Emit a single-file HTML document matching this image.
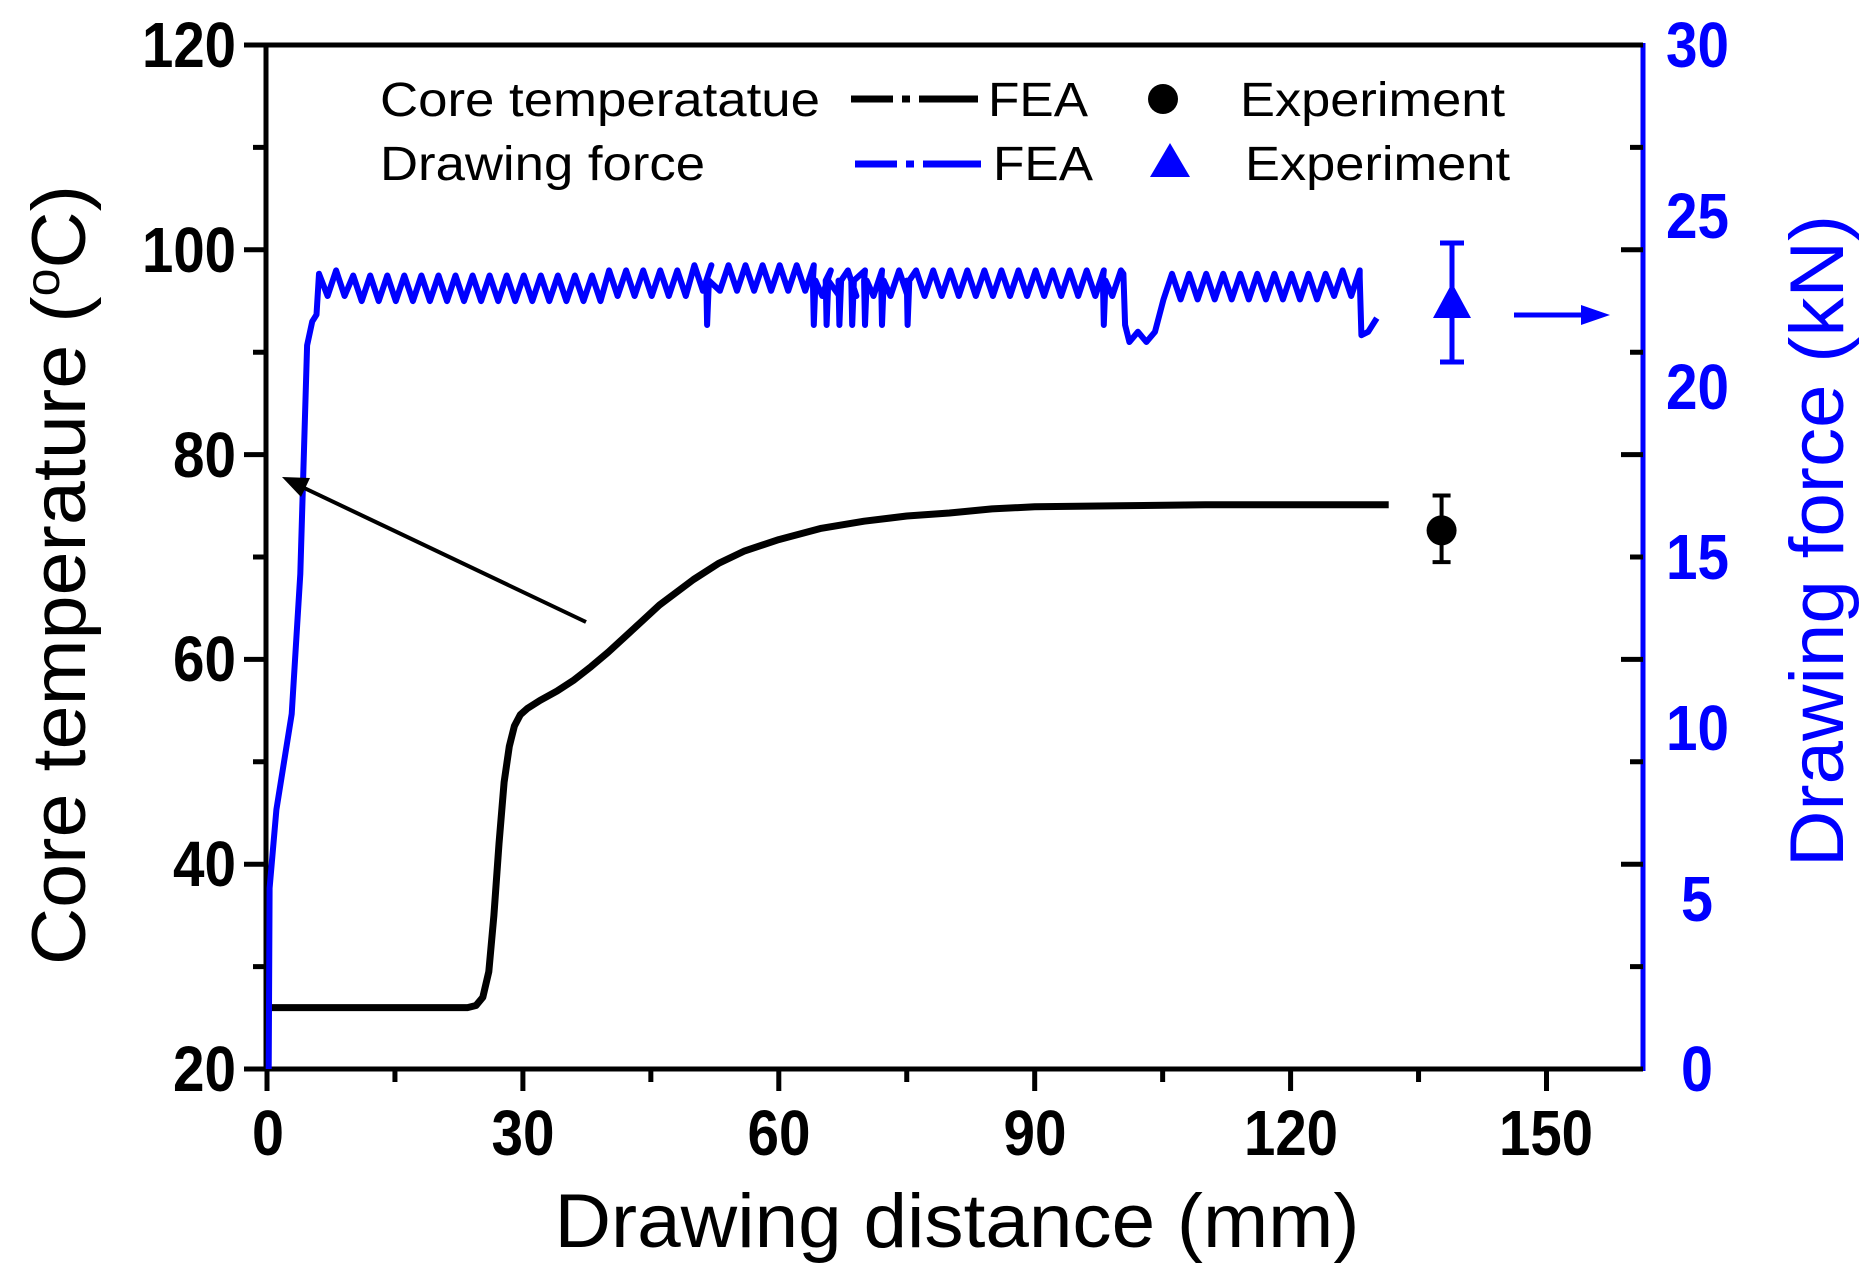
<!DOCTYPE html>
<html><head><meta charset="utf-8"><style>
html,body{margin:0;padding:0;background:#fff;}
svg{display:block;}
text{font-family:"Liberation Sans",Arial,sans-serif;}
</style></head><body>
<svg id="s" width="1866" height="1282" viewBox="0 0 1866 1282" xmlns="http://www.w3.org/2000/svg">
<line x1="266" y1="45" x2="1643" y2="45" stroke="#000" stroke-width="5"/>
<line x1="266" y1="43" x2="266" y2="1071" stroke="#000" stroke-width="5"/>
<line x1="264" y1="1069" x2="1643" y2="1069" stroke="#000" stroke-width="5"/>
<line x1="1643" y1="43" x2="1643" y2="1071" stroke="#0000ff" stroke-width="5"/>
<g id="ticks"></g>
<g font-weight="bold" font-size="64" text-anchor="end" fill="#000">
<text x="236" y="67" textLength="94" lengthAdjust="spacingAndGlyphs">120</text>
<text x="236" y="272" textLength="94" lengthAdjust="spacingAndGlyphs">100</text>
<text x="236" y="477" textLength="63" lengthAdjust="spacingAndGlyphs">80</text>
<text x="236" y="681" textLength="63" lengthAdjust="spacingAndGlyphs">60</text>
<text x="236" y="886" textLength="63" lengthAdjust="spacingAndGlyphs">40</text>
<text x="236" y="1091" textLength="63" lengthAdjust="spacingAndGlyphs">20</text>
</g>
<g font-weight="bold" font-size="64" text-anchor="middle" fill="#000">
<text x="268" y="1155" textLength="32" lengthAdjust="spacingAndGlyphs">0</text>
<text x="523" y="1155" textLength="63" lengthAdjust="spacingAndGlyphs">30</text>
<text x="779" y="1155" textLength="63" lengthAdjust="spacingAndGlyphs">60</text>
<text x="1035" y="1155" textLength="63" lengthAdjust="spacingAndGlyphs">90</text>
<text x="1291" y="1155" textLength="94" lengthAdjust="spacingAndGlyphs">120</text>
<text x="1546" y="1155" textLength="94" lengthAdjust="spacingAndGlyphs">150</text>
</g>
<g font-weight="bold" font-size="64" text-anchor="start" fill="#0000ff">
<text x="1666" y="67" textLength="63" lengthAdjust="spacingAndGlyphs">30</text>
<text x="1666" y="238" textLength="63" lengthAdjust="spacingAndGlyphs">25</text>
<text x="1666" y="409" textLength="63" lengthAdjust="spacingAndGlyphs">20</text>
<text x="1666" y="579" textLength="63" lengthAdjust="spacingAndGlyphs">15</text>
<text x="1666" y="750" textLength="63" lengthAdjust="spacingAndGlyphs">10</text>
<text x="1681" y="921" textLength="32" lengthAdjust="spacingAndGlyphs">5</text>
<text x="1681" y="1091" textLength="32" lengthAdjust="spacingAndGlyphs">0</text>
</g>
<text x="957" y="1247" font-size="76" text-anchor="middle" textLength="805" lengthAdjust="spacingAndGlyphs">Drawing distance (mm)</text>
<text transform="translate(85,575) rotate(-90)" font-size="76" text-anchor="middle" textLength="780" lengthAdjust="spacingAndGlyphs">Core temperature (<tspan dy="-26" font-size="48">o</tspan><tspan dy="26">C)</tspan></text>
<text transform="translate(1843,541) rotate(-90)" font-size="76" text-anchor="middle" fill="#0000ff" textLength="652" lengthAdjust="spacingAndGlyphs">Drawing force (kN)</text>
<g font-size="48">
<text x="380" y="116" textLength="440" lengthAdjust="spacingAndGlyphs">Core temperatatue</text>
<text x="380" y="180" textLength="325" lengthAdjust="spacingAndGlyphs">Drawing force</text>
<text x="988" y="116" textLength="100" lengthAdjust="spacingAndGlyphs">FEA</text>
<text x="993" y="180" textLength="100" lengthAdjust="spacingAndGlyphs">FEA</text>
<text x="1240" y="116" textLength="265" lengthAdjust="spacingAndGlyphs">Experiment</text>
<text x="1245" y="180" textLength="265" lengthAdjust="spacingAndGlyphs">Experiment</text>
</g>
<path d="M851 99 H893 M902 99 H910 M919 99 H978" stroke="#000" stroke-width="7"/>
<path d="M855 164 H897 M906 164 H914 M923 164 H981" stroke="#0000ff" stroke-width="7"/>
<circle cx="1163" cy="99" r="15" fill="#000"/>
<polygon points="1170,143 1150,177 1190,177" fill="#0000ff"/>
<g id="data"></g>
</svg>
<script>
var NS="http://www.w3.org/2000/svg";
function X(mm){return 267+mm*8.53;}
function YT(t){return 1069-(t-20)*10.24;}
function YF(f){return 1069-f*34.13;}
function el(par,tag,a){var e=document.createElementNS(NS,tag);for(var k in a)e.setAttribute(k,a[k]);document.getElementById(par).appendChild(e);return e;}
var tk="";
for(var t=20;t<=120;t+=10){var y=YT(t);var L=(t%20==0)?22:13;
 tk+="M266 "+y+" H"+(266-L)+" ";
 tk+="M1643 "+y+" H"+(1643-L)+" ";}
for(var m=0;m<=160;m+=15){var x=X(m);var L=(m%30==0)?22:13;tk+="M"+x+" 1069 V"+(1069+L)+" ";}
el("ticks","path",{d:tk,stroke:"#000","stroke-width":5,fill:"none"});
var T=[[0,26],[23.5,26],[24.5,26.2],[25.3,27],[26,29.5],[26.6,35],[27.2,42],[27.8,48],[28.4,51.5],[29,53.5],[29.7,54.6],[30.5,55.2],[32,56],[34,56.9],[36,58],[38,59.3],[40,60.7],[43,63],[46,65.3],[50,67.8],[53,69.4],[56,70.6],[60,71.7],[65,72.8],[70,73.5],[75,74],[80,74.3],[85,74.7],[90,74.9],[100,75],[110,75.1],[131.5,75.1]];
var d="";T.forEach(function(p,i){d+=(i?"L":"M")+X(p[0]).toFixed(1)+" "+YT(p[1]).toFixed(1)+" ";});
el("data","path",{d:d,stroke:"#000","stroke-width":7,fill:"none","stroke-linejoin":"round"});
var F=[[0.2,0],[0.3,5.3],[1.1,7.6],[2.9,10.4],[3.9,14.5],[4.7,21.2],[5.3,21.9],[5.8,22.1],[6.1,23.3]];
var spikes={51.5:21.8,64:21.8,65.5:21.8,67:21.8,68.5:21.8,70:21.8,72:21.8,75:21.8,98:21.8};
var x=6.1,hi=true;
while(x<130){
 x+=1.0;hi=!hi;
 var base=23.0;
 if(x>10&&x<40)base=22.85;
 if(x>50&&x<65)base=23.15;
 if(x>105&&x<125)base=22.9;
 var v=hi?base+0.4:base-0.35;
 if(x>100.5&&x<104.5){v=hi?21.6:21.3;}
 if(x>128.3){v=hi?22.0:21.6;}
 F.push([x,v]);
 for(var s in spikes){var sp=+s;if(sp>x-1&&sp<=x){F.push([sp,23.1]);F.push([sp+0.1,spikes[s]]);F.push([sp+0.3,23.1]);}}
 if(Math.abs(x-100.1)<0.6){F.push([100.4,23.3]);F.push([100.6,21.8]);}
 if(Math.abs(x-128)<0.6){F.push([128.1,23.2]);F.push([128.3,21.5]);}
}
d="";F.forEach(function(p,i){d+=(i?"L":"M")+X(p[0]).toFixed(1)+" "+YF(p[1]).toFixed(1)+" ";});
el("data","path",{d:d,stroke:"#0000ff","stroke-width":6,fill:"none","stroke-linejoin":"round"});
var cx=X(137.7);
el("data","path",{d:"M"+cx+" "+YT(69.5)+" V"+YT(76)+" M"+(cx-9)+" "+YT(69.5)+" H"+(cx+9)+" M"+(cx-9)+" "+YT(76)+" H"+(cx+9),stroke:"#000","stroke-width":4});
el("data","circle",{cx:cx,cy:YT(72.6),r:15,fill:"#000"});
el("data","path",{d:"M1452 243 V362 M1440 243 H1464 M1440 362 H1464",stroke:"#0000ff","stroke-width":5});
el("data","polygon",{points:"1452,283 1433,318 1471,318",fill:"#0000ff"});
el("data","path",{d:"M1514 315 H1590",stroke:"#0000ff","stroke-width":5});
el("data","polygon",{points:"1610,315 1581,305 1581,325",fill:"#0000ff"});
el("data","path",{d:"M586 622 L300 486",stroke:"#000","stroke-width":4});
el("data","polygon",{points:"282,477 310,478 301,497",fill:"#000"});
</script>
</body></html>
